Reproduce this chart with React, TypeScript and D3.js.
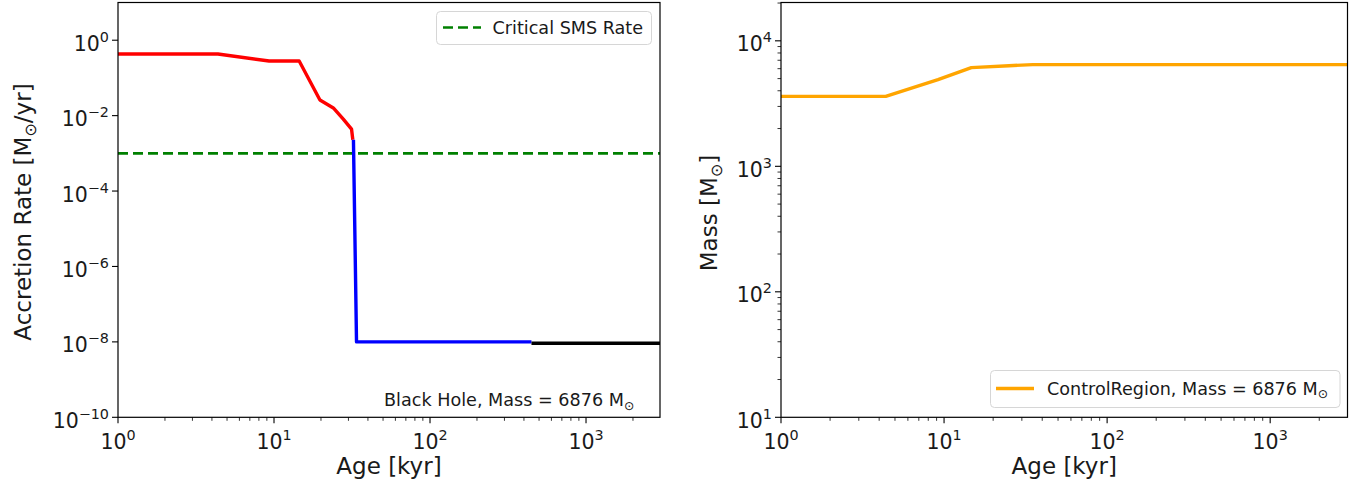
import React, { useEffect, useRef } from 'react';
import * as d3 from 'd3';

// black hole accretion history: age in kyr, rate in Msun/yr
const redAge = [1, 4.37, 9.3, 14.5, 19.7, 24, 27.8, 31.4, 32];
const redRate = [0.43, 0.43, 0.28, 0.28, 0.026, 0.016, 0.0081, 0.0044, 0.0023];
const blueAge = [32.3, 33.8, 447];
const blueRate = [0.0023, 1e-8, 1e-8];
const blackAge = [447, 2980];
const blackRate = [9.2e-9, 9.2e-9];
const criticalRate = 1e-3;

// control region mass
const massAge = [1, 4.39, 9.18, 14.7, 25, 35, 2980];
const massValue = [3610, 3610, 4900, 6120, 6330, 6460, 6460];

const xExps = [0, 1, 2, 3];
const rateExps = [0, -2, -4, -6, -8, -10];
const massExps = [1, 2, 3, 4];

const FONT = 'DejaVu Sans, sans-serif';
const TICK_FS = 20.5;
const LABEL_FS = 23;
const LEG_FS = 17.6;

const zip = (a: number[], b: number[]) => a.map((v, i) => [v, b[i]] as [number, number]);
const fmtExp = (e: number) => (e < 0 ? '\u2212' + Math.abs(e) : String(e));

// "M" + small sun symbol, appended into a text node
function massUnit(t: any, fs: number, tail: string) {
  t.append('tspan').text('M');
  t.append('tspan').attr('font-size', fs * 0.7).attr('dy', fs * 0.2).text('\u2299');
  t.append('tspan').attr('dy', -fs * 0.2).text(tail);
}

function drawPanel(svg: any, o: any) {
  const x = d3.scaleLog().domain([1, 2980]).range([o.left, o.right]);
  const y = d3.scaleLog().domain(o.yDomain).range([417.3, 2.5]);
  const g = svg.append('g');

  // minor ticks on x
  const minors: number[] = [];
  for (let d = 0; d <= 3; d++) for (let k = 2; k <= 9; k++) {
    const v = k * Math.pow(10, d);
    if (v <= 2980) minors.push(v);
  }
  g.selectAll('.xminor').data(minors).enter().append('line')
    .attr('x1', (d: number) => x(d)).attr('x2', (d: number) => x(d))
    .attr('y1', 417.3).attr('y2', 417.3 + 3.5)
    .attr('stroke', '#000').attr('stroke-width', 0.8);
  // major x ticks
  g.selectAll('.xmajor').data(xExps).enter().append('line')
    .attr('x1', (d: number) => x(Math.pow(10, d))).attr('x2', (d: number) => x(Math.pow(10, d)))
    .attr('y1', 417.3).attr('y2', 417.3 + 6)
    .attr('stroke', '#000').attr('stroke-width', 1.1);
  xExps.forEach(e => {
    const t = g.append('text').attr('x', x(Math.pow(10, e))).attr('y', 449)
      .attr('text-anchor', 'middle').attr('font-family', FONT).attr('font-size', TICK_FS).attr('fill', '#1a1a1a');
    t.append('tspan').text('10');
    t.append('tspan').attr('dy', -9).attr('font-size', TICK_FS * 0.7).text(fmtExp(e));
  });

  // y minor ticks
  if (o.yMinor) {
    const ym: number[] = [];
    for (let d = o.yExps[0]; d < o.yExps[o.yExps.length - 1] + 1; d++) for (let k = 2; k <= 9; k++) {
      const v = k * Math.pow(10, d);
      if (v >= o.yDomain[0] && v <= o.yDomain[1]) ym.push(v);
    }
    g.selectAll('.yminor').data(ym).enter().append('line')
      .attr('x1', o.left - 3.5).attr('x2', o.left)
      .attr('y1', (d: number) => y(d)).attr('y2', (d: number) => y(d))
      .attr('stroke', '#000').attr('stroke-width', 0.8);
  }
  g.selectAll('.ymajor').data(o.yExps).enter().append('line')
    .attr('x1', o.left - 6).attr('x2', o.left)
    .attr('y1', (d: number) => y(Math.pow(10, d))).attr('y2', (d: number) => y(Math.pow(10, d)))
    .attr('stroke', '#000').attr('stroke-width', 1.1);
  o.yExps.forEach((e: number) => {
    const t = g.append('text').attr('x', o.left - 9).attr('y', y(Math.pow(10, e)) + 10.5)
      .attr('text-anchor', 'end').attr('font-family', FONT).attr('font-size', TICK_FS).attr('fill', '#1a1a1a');
    t.append('tspan').text('10');
    t.append('tspan').attr('dy', -9).attr('font-size', TICK_FS * 0.7).text(fmtExp(e));
  });

  // axis labels
  g.append('text').attr('x', (o.left + o.right) / 2).attr('y', 474)
    .attr('text-anchor', 'middle').attr('font-family', FONT).attr('font-size', LABEL_FS).attr('fill', '#1a1a1a')
    .text('Age [kyr]');
  const yl = g.append('text')
    .attr('transform', `translate(${o.yLabelX},${o.yLabelY}) rotate(-90)`)
    .attr('text-anchor', 'middle').attr('font-family', FONT).attr('font-size', LABEL_FS).attr('fill', '#1a1a1a');
  yl.append('tspan').text(o.yLabelPre);
  massUnit(yl, LABEL_FS, o.yLabelPost);

  // series
  const line = d3.line<[number, number]>().x(d => x(d[0])).y(d => y(d[1]));
  o.series.forEach((s: any) => {
    g.append('path').datum(zip(s.xs, s.ys)).attr('d', line)
      .attr('fill', 'none').attr('stroke', s.color).attr('stroke-width', s.width)
      .attr('stroke-dasharray', s.dash || null).attr('stroke-linejoin', 'round');
  });

  // frame
  g.append('rect').attr('x', o.left).attr('y', 2.5).attr('width', o.right - o.left).attr('height', 417.3 - 2.5)
    .attr('fill', 'none').attr('stroke', '#000').attr('stroke-width', 1.2);
  return { x, y, g };
}

const App = () => {
  const ref = useRef<SVGSVGElement>(null);

  useEffect(() => {
    document.body.style.margin = '0';
    const svg = d3.select(ref.current);
    svg.selectAll('*').remove();

    const left = drawPanel(svg, {
      left: 118, right: 660, yDomain: [1e-10, 1e1], yExps: rateExps, yMinor: false,
      yLabelX: 31, yLabelY: 212, yLabelPre: 'Accretion Rate [', yLabelPost: '/yr]',
      series: [
        { xs: [1, 2980], ys: [criticalRate, criticalRate], color: 'green', width: 2.6, dash: '10,5' },
        { xs: redAge, ys: redRate, color: 'red', width: 3.4 },
        { xs: blueAge, ys: blueRate, color: 'blue', width: 3.4 },
        { xs: blackAge, ys: blackRate, color: 'black', width: 3.4 },
      ],
    });
    // legend: critical rate
    const lg = left.g;
    lg.append('rect').attr('x', 436.5).attr('y', 11.5).attr('width', 215).attr('height', 33).attr('rx', 4)
      .attr('fill', 'rgba(255,255,255,0.8)').attr('stroke', '#d6d6d6').attr('stroke-width', 1);
    lg.append('line').attr('x1', 443).attr('x2', 481).attr('y1', 27.5).attr('y2', 27.5)
      .attr('stroke', 'green').attr('stroke-width', 2.6).attr('stroke-dasharray', '10,5');
    lg.append('text').attr('x', 492.5).attr('y', 33.5).attr('font-family', FONT).attr('font-size', LEG_FS)
      .attr('fill', '#1a1a1a').text('Critical SMS Rate');
    const bh = lg.append('text').attr('x', 384).attr('y', 406).attr('font-family', FONT).attr('font-size', LEG_FS)
      .attr('fill', '#1a1a1a');
    bh.append('tspan').text('Black Hole, Mass = 6876 ');
    massUnit(bh, LEG_FS, '');

    const right = drawPanel(svg, {
      left: 781, right: 1347.5, yDomain: [10, 2.02e4], yExps: massExps, yMinor: true,
      yLabelX: 717, yLabelY: 213, yLabelPre: 'Mass [', yLabelPost: ']',
      series: [{ xs: massAge, ys: massValue, color: 'orange', width: 3.4 }],
    });
    const rg = right.g;
    rg.append('rect').attr('x', 990.5).attr('y', 370.5).attr('width', 349.5).attr('height', 37).attr('rx', 4)
      .attr('fill', 'rgba(255,255,255,0.8)').attr('stroke', '#d6d6d6').attr('stroke-width', 1);
    rg.append('line').attr('x1', 996).attr('x2', 1034).attr('y1', 388.5).attr('y2', 388.5)
      .attr('stroke', 'orange').attr('stroke-width', 3.4);
    const cr = rg.append('text').attr('x', 1047).attr('y', 394.5).attr('font-family', FONT).attr('font-size', LEG_FS)
      .attr('fill', '#1a1a1a');
    cr.append('tspan').text('ControlRegion, Mass = 6876 ');
    massUnit(cr, LEG_FS, '');
  }, []);

  return <svg ref={ref} width={1367} height={486} style={{ display: 'block', background: '#fff' }} />;
};

export default App;
